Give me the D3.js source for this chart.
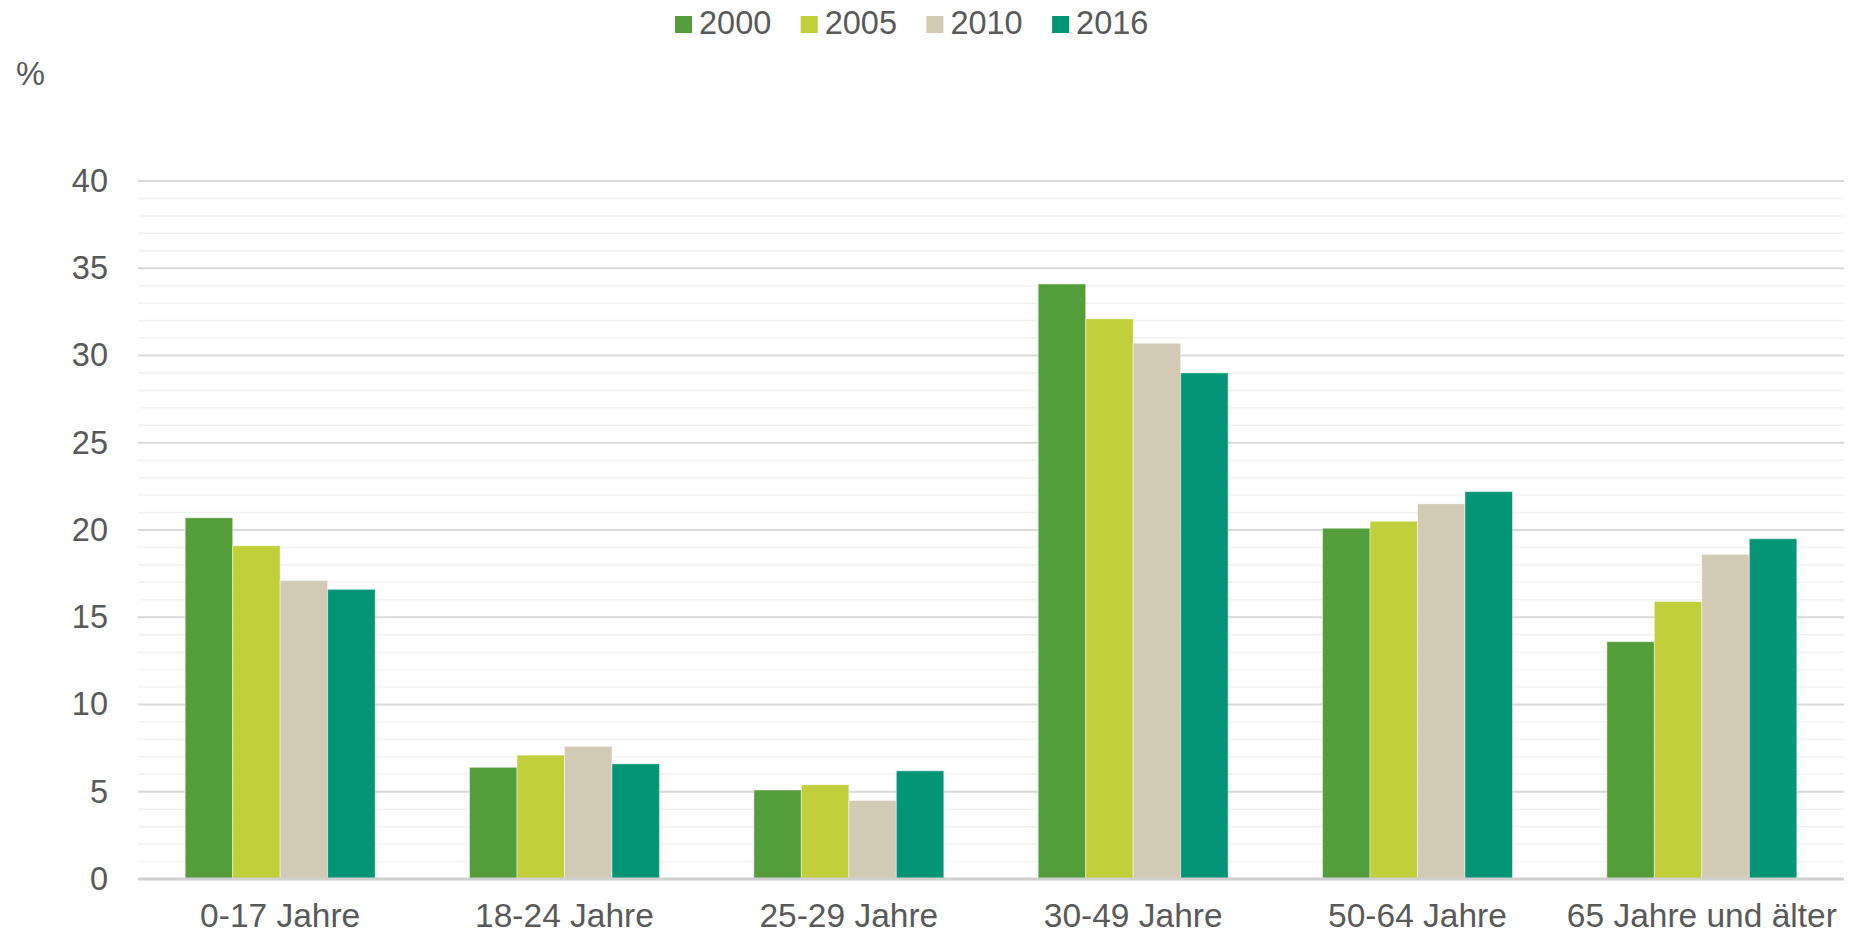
<!DOCTYPE html>
<html>
<head>
<meta charset="utf-8">
<script src="https://cdn.jsdelivr.net/npm/d3@7"></script>
<style>
  body { margin: 0; background: #fff; }
  text { font-family: "Liberation Sans", Arial, sans-serif; fill: #595959; }
</style>
</head>
<body>
<div id="chart"></div>
<script>
// Data
var categories = ["0-17 Jahre", "18-24 Jahre", "25-29 Jahre", "30-49 Jahre", "50-64 Jahre", "65 Jahre und älter"];
var years = ["2000", "2005", "2010", "2016"];
var v2000 = [20.7, 6.4, 5.1, 34.1, 20.1, 13.6];
var v2005 = [19.1, 7.1, 5.4, 32.1, 20.5, 15.9];
var v2010 = [17.1, 7.6, 4.5, 30.7, 21.5, 18.6];
var v2016 = [16.6, 6.6, 6.2, 29.0, 22.2, 19.5];
var yTicks = [0, 5, 10, 15, 20, 25, 30, 35, 40];
var colors = ["#539d3a", "#c1cf3b", "#d2cab4", "#039575"];

var series = [v2000, v2005, v2010, v2016];

var W = 1854, H = 935;
var margin = {top: 181, right: 10, bottom: 56, left: 138};
var w = W - margin.left - margin.right,
    h = H - margin.top - margin.bottom;

var svg = d3.select("#chart").append("svg")
  .attr("width", W).attr("height", H);

var g = svg.append("g")
  .attr("transform", "translate(" + margin.left + "," + margin.top + ")");

var x0 = d3.scaleBand().domain(categories).range([0, w]).paddingInner(0.332).paddingOuter(0.166);
var x1 = d3.scaleBand().domain(years).range([0, x0.bandwidth()]);
var y = d3.scaleLinear().domain([0, 40]).range([h, 0]);

// minor gridlines
g.selectAll(".minor")
  .data(d3.range(0, 41).filter(function(d){ return d % 5 !== 0; }))
  .enter().append("line")
  .attr("x1", 0).attr("x2", w)
  .attr("y1", function(d){ return y(d); })
  .attr("y2", function(d){ return y(d); })
  .style("stroke", "#f2f2f2")
  .style("stroke-width", "1.5px");

// major gridlines
g.selectAll(".major")
  .data(yTicks.filter(function(d){ return d > 0; }))
  .enter().append("line")
  .attr("x1", 0).attr("x2", w)
  .attr("y1", function(d){ return y(d); })
  .attr("y2", function(d){ return y(d); })
  .style("stroke", "#d9d9d9")
  .style("stroke-width", "2px");

// bars
var groups = g.selectAll(".grp")
  .data(categories)
  .enter().append("g")
  .attr("transform", function(d){ return "translate(" + x0(d) + ",0)"; });

groups.selectAll("rect")
  .data(function(d, i){ return years.map(function(yr, k){ return {yr: yr, k: k, v: series[k][i]}; }); })
  .enter().append("rect")
  .attr("x", function(d){ return x1(d.yr); })
  .attr("width", x1.bandwidth())
  .attr("y", function(d){ return y(d.v); })
  .attr("height", function(d){ return h - y(d.v); })
  .style("fill", function(d){ return colors[d.k]; })
  .style("stroke", "rgba(255,255,255,0.45)")
  .style("stroke-width", "1px");

// baseline
g.append("line")
  .attr("x1", 0).attr("x2", w)
  .attr("y1", y(0)).attr("y2", y(0))
  .style("stroke", "#d0d0d0")
  .style("stroke-width", "3px");

// y axis labels
var yAxis = d3.axisLeft(y).tickValues(yTicks).tickSize(0).tickPadding(30);
var ya = g.append("g").call(yAxis);
ya.select(".domain").remove();
ya.selectAll("text")
  .style("font-size", "32.5px")
  .attr("fill", "#595959")
  .style("font-family", "'Liberation Sans', Arial, sans-serif");

// x axis labels
var xAxis = d3.axisBottom(x0).tickSize(0).tickPadding(24);
var xa = g.append("g").attr("transform", "translate(0," + h + ")").call(xAxis);
xa.select(".domain").remove();
xa.selectAll("text")
  .style("font-size", "33.5px")
  .attr("fill", "#595959")
  .style("font-family", "'Liberation Sans', Arial, sans-serif");

// unit label
svg.append("text")
  .attr("x", 16).attr("y", 85)
  .style("font-size", "32.5px")
  .text("%");

// legend
var legend = svg.selectAll(".legend")
  .data(years)
  .enter().append("g")
  .attr("transform", function(d, i){ return "translate(" + (675 + i * 125.7) + ",0)"; });

legend.append("rect")
  .attr("x", 0).attr("y", 16)
  .attr("width", 17).attr("height", 17)
  .style("fill", function(d, i){ return colors[i]; });

legend.append("text")
  .attr("x", 24).attr("y", 34)
  .style("font-size", "32.5px")
  .text(function(d){ return d; });
</script>
</body>
</html>
